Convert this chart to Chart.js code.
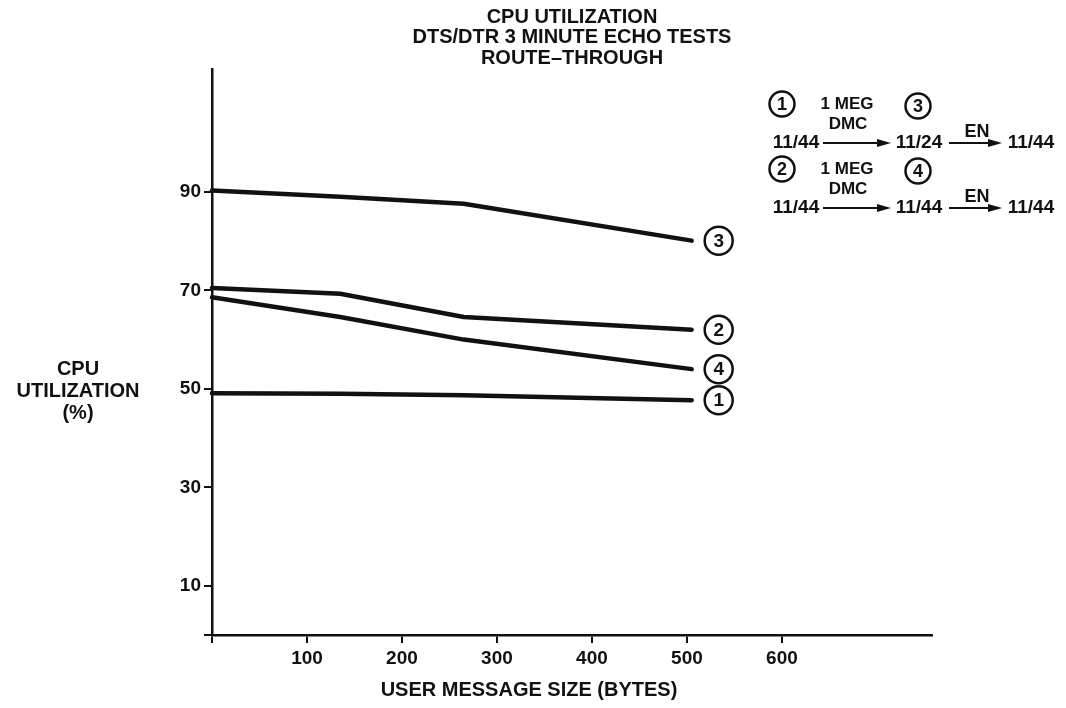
<!DOCTYPE html>
<html>
<head>
<meta charset="utf-8">
<title>CPU Utilization - DTS/DTR echo tests</title>
<script src="https://cdn.jsdelivr.net/npm/chart.js@4.4.1/dist/chart.umd.min.js"></script>
<style>
  html, body { margin: 0; padding: 0; background: #fff; }
  #wrap { position: relative; width: 1066px; height: 708px; }
</style>
</head>
<body>
<div id="wrap"><canvas id="cpuChart"></canvas></div>
<script>
// Values
const msgSizes = [0, 135, 265, 505];
const series1 = [49.1, 49.0, 48.7, 47.7];
const series2 = [70.5, 69.3, 64.6, 62.0];
const series3 = [90.3, 89.0, 87.6, 80.1];
const series4 = [68.6, 64.6, 60.0, 54.0];
const seriesNames = ['1', '2', '3', '4'];

const xTicks = [0, 100, 200, 300, 400, 500, 600];
const yTicks = [0, 10, 30, 50, 70, 90];

const titleLines = ['CPU UTILIZATION', 'DTS/DTR 3 MINUTE ECHO TESTS', 'ROUTE\u2013THROUGH'];
const yTitleLines = ['CPU', 'UTILIZATION', '(%)'];
const xTitle = 'USER MESSAGE SIZE (BYTES)';

// key in the top right corner
const keyTop = ['1', '3'];
const keyTopNodes = ['11/44', '11/24', '11/44'];
const keyBottom = ['2', '4'];
const keyBottomNodes = ['11/44', '11/44', '11/44'];
const keyLink = ['1 MEG', 'DMC'];
const keyNet = 'EN';

const INK = '#111';
const FONT = '"Liberation Sans", Arial, Helvetica, sans-serif';

function circled(ctx, x, y, r, txt, size) {
  ctx.beginPath();
  ctx.arc(x, y, r, 0, Math.PI * 2);
  ctx.lineWidth = 2.5;
  ctx.strokeStyle = INK;
  ctx.stroke();
  ctx.font = 'bold ' + size + 'px ' + FONT;
  ctx.fillStyle = INK;
  ctx.textAlign = 'center';
  ctx.textBaseline = 'middle';
  ctx.fillText(txt, x, y + 1);
}

function arrow(ctx, x1, x2, y) {
  ctx.strokeStyle = INK;
  ctx.fillStyle = INK;
  ctx.lineWidth = 2;
  ctx.beginPath();
  ctx.moveTo(x1, y);
  ctx.lineTo(x2 - 10, y);
  ctx.stroke();
  ctx.beginPath();
  ctx.moveTo(x2, y);
  ctx.lineTo(x2 - 14, y - 4);
  ctx.lineTo(x2 - 14, y + 4);
  ctx.closePath();
  ctx.fill();
}

function text(ctx, s, x, y, size) {
  ctx.font = 'bold ' + size + 'px ' + FONT;
  ctx.fillStyle = INK;
  ctx.textAlign = 'center';
  ctx.textBaseline = 'middle';
  ctx.fillText(s, x, y);
}

function drawKeyRow(ctx, nums, nodes, y0) {
  circled(ctx, 782, y0, 12.5, nums[0], 18);
  circled(ctx, 918, y0 + 2, 12.5, nums[1], 18);
  text(ctx, keyLink[0], 847, y0, 17);
  text(ctx, keyLink[1], 848, y0 + 20, 17);
  const y = y0 + 39;
  text(ctx, nodes[0], 796, y, 19);
  arrow(ctx, 823, 891, y);
  text(ctx, nodes[1], 919, y, 19);
  text(ctx, keyNet, 977, y - 11, 18);
  arrow(ctx, 949, 1002, y);
  text(ctx, nodes[2], 1031, y, 19);
}

// circled series numbers at line ends, axis titles and key
const annotations = {
  id: 'annotations',
  afterDatasetsDraw(chart) {
    const ctx = chart.ctx;
    ctx.save();
    chart.data.datasets.forEach((ds, i) => {
      const pts = chart.getDatasetMeta(i).data;
      const last = pts[pts.length - 1];
      circled(ctx, last.x + 27, last.y, 14, ds.label, 19);
    });

    yTitleLines.forEach((s, i) => text(ctx, s, 78, 369 + i * 22, 20));
    text(ctx, xTitle, 529, 690, 20);

    drawKeyRow(ctx, keyTop, keyTopNodes, 104);
    drawKeyRow(ctx, keyBottom, keyBottomNodes, 169);
    ctx.restore();
  }
};

const seriesData = [series1, series2, series3, series4];

const chart = new Chart(document.getElementById('cpuChart'), {
  type: 'line',
  data: {
    datasets: seriesData.map((vals, i) => ({
      label: seriesNames[i],
      data: vals.map((v, j) => ({ x: msgSizes[j], y: v })),
      borderColor: INK,
      borderWidth: 4.5,
      borderCapStyle: 'round',
      borderJoinStyle: 'round',
      pointRadius: 0,
      tension: 0,
      fill: false,
      clip: false,
    }))
  },
  options: {
    responsive: true,
    maintainAspectRatio: false,
    animation: false,
    layout: { padding: { left: 0, right: 134, top: 0, bottom: 0 } },
    scales: {
      x: {
        type: 'linear',
        min: 0,
        max: 758,
        afterBuildTicks: scale => { scale.ticks = xTicks.map(v => ({ value: v })); },
        afterFit: scale => { scale.height = 73; },
        ticks: {
          color: INK,
          padding: 4,
          font: { family: FONT, size: 19, weight: 'bold' },
          callback: v => (v === 0 ? '' : v),
          maxRotation: 0,
        },
        grid: { drawOnChartArea: false, drawTicks: true, tickLength: 8, color: INK, lineWidth: 2 },
        border: { display: true, color: INK, width: 2.5 },
      },
      y: {
        min: 0,
        max: 115,
        afterBuildTicks: scale => { scale.ticks = yTicks.map(v => ({ value: v })); },
        afterFit: scale => { scale.width = 212; },
        ticks: {
          color: INK,
          padding: 3,
          font: { family: FONT, size: 19, weight: 'bold' },
          callback: v => (v === 0 ? '' : v),
        },
        grid: { drawOnChartArea: false, drawTicks: true, tickLength: 8, color: INK, lineWidth: 2 },
        border: { display: true, color: INK, width: 2.5 },
      }
    },
    plugins: {
      legend: { display: false },
      tooltip: { enabled: false },
      title: {
        display: true,
        text: titleLines,
        fullSize: false,
        color: INK,
        font: { family: FONT, size: 20, weight: 'bold', lineHeight: 1.03 },
        padding: { top: 7, bottom: 0 },
      },
    },
  },
  plugins: [annotations],
});
</script>
</body>
</html>
